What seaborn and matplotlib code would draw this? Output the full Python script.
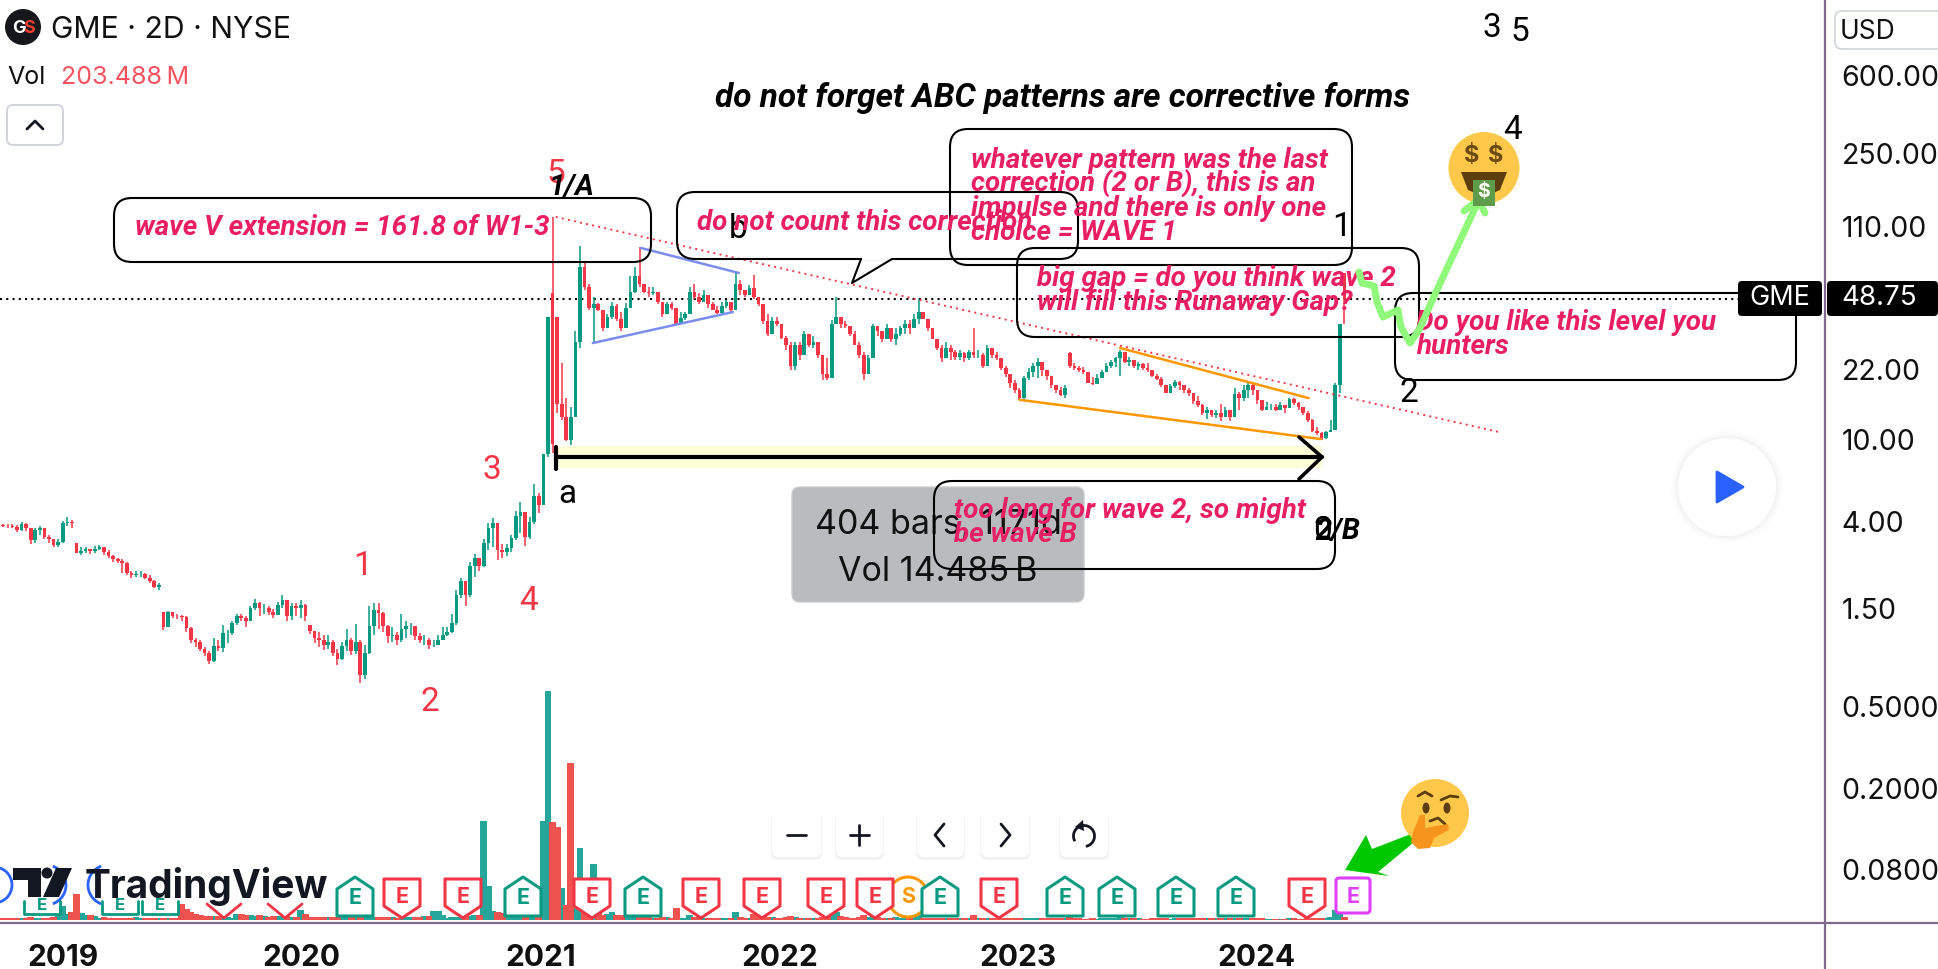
import numpy as np, pandas as pd
import matplotlib
matplotlib.use("Agg")
import matplotlib.pyplot as plt
import matplotlib.dates as mdates
from matplotlib.patches import FancyBboxPatch, Polygon, Circle, Ellipse, Arc, Rectangle
import seaborn as sns

# ---------- data ----------
first_bar = "2018-09-26"
bar_days = 7
closes = [
 3.85,3.82,3.80,3.77,3.64,3.90,3.70,3.26,3.64,3.70,
 3.37,3.27,3.08,3.19,3.92,3.99,3.92,2.80,2.88,2.93,
 2.86,2.94,2.99,2.85,2.71,2.61,2.56,2.52,2.25,2.19,
 2.21,2.22,2.12,2.04,1.92,1.97,1.22,1.44,1.39,1.38,
 1.37,1.21,1.06,1.03,.95,.91,.83,.985,.96,1.14,
 1.14,1.28,1.38,1.35,1.30,1.51,1.60,1.51,1.51,1.45,
 1.40,1.56,1.66,1.38,1.54,1.51,1.56,1.38,1.17,1.08,
 1.06,1.0,1.03,.91,.85,.985,1.06,.93,1.03,.71,
 .91,1.23,1.48,1.43,1.23,1.10,1.12,1.06,1.19,1.23,
 1.23,1.10,1.06,1.06,1.0,1.0,1.06,1.12,1.16,1.28,
 1.76,2.04,1.76,2.42,2.64,2.42,3.13,3.70,3.92,2.91,
 2.85,2.97,3.31,4.25,4.44,3.37,3.99,5.33,4.81,8.50,
 40,9.6,15,13,10,13,30,70,56,44,
 46,43,35,40,45,39,35,44,53,63,
 58,53,52,53,47,41,46,44,37,39.5,
 41,53,50,47,51,46,43,41.5,45,47,
 43,58,54,51,55,50,46,38,33,38,
 37,31.5,29,23,29,26,33,29,30,26,
 21,20,37,40,37,36,33,29,26,21,
 25,36,34,31,35,31,33,35,37,35,
 39,42,39,35,31,28,25,28,27,25.5,
 26.5,25,27,26,26,23,28,26,25,22.5,
 21,19,17.5,16,20,21.5,23,24,22,20.5,
 18.5,17.5,16.5,18,23,22.5,22,21.5,19,18.7,
 20,21.5,23,24,25,27,24,24.5,23,23.5,
 22.5,22,20.5,19.8,18.5,17,18.3,19.2,18.5,17.5,
 17,15.5,14.8,13.5,14,13.3,13.5,13,14,13,
 16.8,16,17.5,18.5,17.5,15.7,14,14.5,14.5,14,
 14.8,14.3,15.8,15.2,14.5,13.6,12.5,11,10.8,10.2,
 10.9,11.2,18.5,37,48.75]
highs = [
 3.93,3.90,3.88,3.90,3.85,3.98,3.92,3.72,3.72,3.80,
 3.70,3.45,3.30,3.30,4.00,4.20,4.05,3.13,3.00,3.00,
 2.95,3.02,3.08,3.00,2.90,2.75,2.65,2.62,2.55,2.30,
 2.30,2.28,2.25,2.20,2.08,2.00,1.44,1.47,1.45,1.42,
 1.40,1.38,1.22,1.08,1.05,.98,.93,1.08,1.05,1.25,
 1.18,1.30,1.42,1.42,1.38,1.55,1.68,1.62,1.58,1.55,
 1.50,1.62,1.75,1.66,1.60,1.60,1.65,1.58,1.25,1.17,
 1.15,1.12,1.12,1.05,.95,1.03,1.20,1.08,1.27,1.05,
 1.0,1.55,1.60,1.60,1.45,1.25,1.22,1.15,1.42,1.30,
 1.28,1.24,1.14,1.12,1.08,1.05,1.12,1.22,1.22,1.42,
 1.85,2.12,2.05,2.55,2.78,2.60,3.30,3.95,4.15,3.95,
 3.10,3.10,3.45,4.50,5.00,4.45,4.20,6.10,5.50,8.50,
 40,123,40,23.7,16,14.5,34,88,75,58,
 50,46.5,43,41,47,46,42,46.5,63,70,
 87,58,56,56,53,47,47,47,42,42,
 42,56,58,52,54,50,47,45,47,48,
 47,65,60,54,57,64,50,46,41,40,
 40,37,32,30,30,30,34,33,32,30,
 26,25,38.5,50,40,38,36,34,30,27,
 26,37,36,34,37,35,35,36,38.5,38.5,
 41,49,42,39,35,31,29,30,29,27.5,
 27.5,27,27.5,35,27.5,26.5,29,28,27,25,
 23,20.5,19.6,18,20.5,22.5,23.7,25,23.5,22,
 20.5,18.5,18.2,18.6,27,23.7,23,22.8,20,20.3,
 21,22,23.7,24.5,25.5,27.5,27,25.5,24.5,24,
 23.7,23.7,22,21,20.3,18.5,18.7,19.6,19.3,18.6,
 18,17,16.3,15,14.5,14,14,15,14.5,14,
 18,17.2,18.5,19,18.7,17,15.5,15.3,15,15,
 15.4,14.8,16,16.1,15.4,14.5,13.8,12.6,11.5,10.9,
 11.1,12.5,19,37,65]
lows = [
 3.75,3.75,3.70,3.70,3.55,3.60,3.60,3.10,3.15,3.45,
 3.30,3.15,3.00,3.00,3.15,3.80,3.70,2.80,2.75,2.80,
 2.78,2.82,2.90,2.75,2.65,2.55,2.50,2.25,2.20,2.12,
 2.15,2.15,2.10,2.00,1.90,1.85,1.18,1.25,1.35,1.33,
 1.30,1.15,1.02,.98,.93,.88,.81,.82,.93,.92,
 1.02,1.12,1.25,1.30,1.22,1.30,1.48,1.38,1.42,1.40,
 1.35,1.40,1.52,1.30,1.32,1.38,1.35,1.30,1.13,1.02,
 .98,.94,.95,.88,.80,.84,.93,.89,.90,.65,
 .68,.90,1.12,1.20,1.15,1.02,1.03,1.0,1.03,1.08,
 1.12,1.05,1.02,1.0,.95,.98,1.0,1.05,1.10,1.14,
 1.25,1.70,1.55,1.72,2.15,2.30,2.40,2.90,3.00,2.60,
 2.65,2.70,2.85,3.25,3.50,3.05,3.30,3.90,4.40,4.80,
 8.3,8.6,13.5,12.5,9.9,9.4,13,28,54,43,
 29.6,42.5,34,35,39,38,34,38,48,52,
 56,52,50,51,46,40,44,43,37,38.5,
 38.5,46,49,46,47,44,43,41,41,44,
 42,44,51,50,51,49,45,37,32,33,
 36,31,27.5,22,22,24.5,28,28.5,28,25,
 19.6,19.6,24.5,38,35,35,32,29,25,19.6,
 22,29,32,30,31,30,29,32,33,33,
 36,37,39,34,31,27.4,24,25,24.5,24.5,
 24.5,24,24.5,25,25,22.5,25,25,24.5,22,
 20.3,18,17,15.6,15.6,19.6,20.3,20,20.5,19.6,
 18,16.9,16.3,16,22.5,22,21.5,21,19,18.5,
 19,20,21.5,22.5,22.8,20.5,23.7,23,22.5,22,
 22,21.5,20.3,19.6,18.2,16.9,16.9,18,17.5,17,
 16.3,15,14.5,13.3,12.7,13,12.8,12.4,13.2,12.4,
 13.5,14,15.5,16,16.5,15,13.8,14,14,13.9,
 14,13.5,14.5,14.8,14,13.2,12.3,10.9,10.6,10,
 10.1,10.9,11.2,17,37]
gap_bars = [17, 36, 68, 121, 122, 234, 294]
gap_opens = [3.13, 1.44, 1.25, 52, 40, 26.5, 65]
volumes = [
 120,100,130,100,140,110,120,180,150,130,
 130,120,200,400,900,400,500,1700,480,300,
 350,250,150,200,150,130,120,120,110,120,
 200,120,120,110,120,100,130,150,120,110,
 1050,700,500,400,300,250,250,250,250,200,
 200,150,400,400,350,300,250,300,280,200,
 250,230,250,250,200,200,650,400,200,180,
 180,200,200,220,200,200,200,180,200,200,
 180,250,200,180,200,200,200,150,150,200,
 180,200,180,250,250,600,600,300,150,200,
 220,200,300,250,300,350,6500,2200,600,500,
 450,300,200,250,250,200,300,300,1000,6500,
 15000,6400,6100,2100,1000,10300,1200,4700,1300,700,
 3700,600,300,400,500,350,300,200,250,300,
 600,300,200,150,150,200,180,150,800,150,
 150,300,200,150,150,150,120,120,120,130,
 150,500,200,150,150,400,500,300,200,180,
 150,150,180,250,200,150,150,120,150,150,
 200,300,700,500,250,200,150,150,200,300,
 200,350,200,150,150,150,180,150,150,150,
 200,300,150,130,150,150,130,120,120,100,
 100,100,120,330,120,120,150,120,100,100,
 120,100,100,120,120,100,120,100,100,100,
 100,100,100,100,250,150,100,80,80,120,
 80,100,100,120,120,200,150,100,100,100,
 80,80,100,100,120,100,80,100,100,100,
 100,120,120,120,100,100,100,100,100,100,
 150,120,100,100,100,100,100,80,80,80,
 80,80,100,100,80,80,100,150,120,100,
 100,200,650,400,203.488]
vol_force_red = [125]
vol_force_green = [123]
price_ticks = [600, 250, 110, 48.75, 22, 10, 4, 1.5, 0.5, 0.2, 0.08]
price_labels = ["600.00","250.00","110.00","","22.00","10.00","4.00","1.50","0.5000","0.2000","0.0800"]
years = [2019, 2020, 2021, 2022, 2023, 2024]
last_price = 48.75
tri_top_bars, tri_top_prices = [140.3, 161.7], [86.5, 65.3]
tri_low_bars, tri_low_prices = [129.8, 160.4], [29.7, 42.1]
fall_bars, fall_prices = [121.7, 328], [122.5, 10.9]
wedge_top_bars, wedge_top_prices = [245, 286.2], [28.1, 16.0]
wedge_low_bars, wedge_low_prices = [223, 288.8], [15.7, 10.1]

# ---------- setup ----------
sns.set_theme(style="white")
plt.rcParams["font.family"] = ["Inter", "Roboto", "DejaVu Sans"]
W, H = 1938, 969
fig = plt.figure(figsize=(W/100, H/100), dpi=100, facecolor="white")
def rect_px(x0, y0, x1, y1):
    return [x0/W, 1-y1/H, (x1-x0)/W, (y1-y0)/H]

GREEN, RED = "#089981", "#F23645"
VGREEN, VRED = "#26A69A", "#EF5350"
PINK = "#E91E63"
PURPLE = "#7E6A8C"

c = np.array(closes, float); h = np.array(highs, float); l = np.array(lows, float)
n = len(c)
assert len(h) == n and len(l) == n and len(volumes) == n, (n, len(h), len(l), len(volumes))
o = np.r_[c[0], c[:-1]]
o[gap_bars] = gap_opens
t0 = mdates.date2num(np.datetime64(first_bar))
t = t0 + np.arange(n)*bar_days
def bar_x(b):
    return t0 + np.asarray(b, float)*bar_days
xlim = (t0 + 2, mdates.date2num(np.datetime64("2026-05-20")))
up = c >= o

# ---------- volume pane ----------
vax = fig.add_axes(rect_px(0, 500, 1825, 920))
vdir = np.where(up, "up", "down").astype(object)
vdir[vol_force_red] = "down"; vdir[vol_force_green] = "up"
vdf = pd.DataFrame({"t": t, "vol": volumes, "dir": vdir})
sns.barplot(data=vdf, x="t", y="vol", hue="dir", palette={"up": VGREEN, "down": VRED},
            native_scale=True, dodge=False, width=1.5, legend=False, ax=vax, linewidth=0, saturation=1)
vax.set_xlim(xlim); vax.set_ylim(0, 27552); vax.axis("off")

# ---------- price pane ----------
ax = fig.add_axes(rect_px(0, 0, 1825, 923), sharex=None)
ax.patch.set_alpha(0)
ax.set_yscale("log")
ax.bar(t, np.abs(c-o), bottom=np.minimum(c, o), width=bar_days*0.8,
       color=np.where(up, GREEN, RED), linewidth=0, zorder=3)
ax.vlines(t, l, h, colors=np.where(up, GREEN, RED), linewidth=1.1, zorder=3)
ax.set_xlim(xlim); ax.set_ylim(0.0439, 1403)
ax.axhline(last_price, xmin=0, xmax=1738/1825, color="black", linestyle=(0, (1, 2)), linewidth=1.5, zorder=2)
for b, p, col, ls, lw in [(tri_top_bars, tri_top_prices, "#7B8EEE", "-", 1.8),
                          (tri_low_bars, tri_low_prices, "#7B8EEE", "-", 1.8),
                          (wedge_top_bars, wedge_top_prices, "#FF9800", "-", 1.8),
                          (wedge_low_bars, wedge_low_prices, "#FF9800", "-", 1.8),
                          (fall_bars, fall_prices, "#F23645", (0, (1, 2.2)), 1.4)]:
    sns.lineplot(x=bar_x(b), y=p, color=col, linestyle=ls, linewidth=lw, ax=ax, zorder=4, legend=False)
ax.set_xlim(xlim); ax.set_ylim(0.0439, 1403)
ax.set_xlabel(""); ax.set_ylabel("")
for s in ax.spines.values():
    s.set_visible(False)
ax.yaxis.tick_right()
ax.set_yticks(price_ticks); ax.set_yticklabels(price_labels)
ax.minorticks_off()
ax.tick_params(axis="y", length=0, pad=12, labelsize=20.5, labelcolor="#111111")
ax.set_xticks([mdates.date2num(np.datetime64(f"{y}-01-02")) for y in years])
ax.set_xticklabels([str(y) for y in years], fontweight="bold")
ax.tick_params(axis="x", length=0, pad=15, labelsize=21.5, labelcolor="#111111")

# ---------- overlay in screen pixels ----------
ov = fig.add_axes([0, 0, 1, 1], zorder=10)
ov.set_xlim(0, W); ov.set_ylim(H, 0); ov.axis("off"); ov.patch.set_alpha(0)

ov.plot([0, W], [923, 923], color=PURPLE, lw=1.6, zorder=1)
ov.plot([1825, 1825], [0, H], color=PURPLE, lw=1.6, zorder=1)

def box(x0, y0, x1, y1, r=18, fc="none", ec="black", lw=1.5, z=5, alpha=None):
    p = FancyBboxPatch((x0+r, y0+r), x1-x0-2*r, y1-y0-2*r, boxstyle=f"round,pad={r},rounding_size={r}",
                       fc=fc, ec=ec, lw=lw, zorder=z, alpha=alpha)
    ov.add_patch(p); return p
def txt(x, y, s, size=20, color="black", ha="left", va="center", z=8, **kw):
    return ov.text(x, y, s, fontsize=size, color=color, ha=ha, va=va, zorder=z, **kw)
def pink(x, y, s):
    txt(x, y, s, size=20, color=PINK, family="Roboto", fontweight="bold", fontstyle="italic", z=9)

# yellow band and date-range arrow
ov.add_patch(Rectangle((556, 446), 766, 22, fc="#FFFDD8", ec="none", zorder=2))
ov.plot([556, 1322], [457, 457], color="black", lw=3, zorder=6)
ov.plot([556, 556], [447, 469], color="black", lw=3, zorder=6, solid_capstyle="round")
ov.plot([1299, 1322, 1299], [437, 457, 479], color="black", lw=2.6, zorder=6)

# grey measuring label
box(792, 487, 1084, 602, r=8, fc="#BABBBF", ec="#C9CACD", lw=1, z=3)
txt(938, 525, "404 bars, 1171d", size=24.5, ha="center", color="#111111", z=4)
txt(938, 572, "Vol 14.485\u2009B", size=24.5, ha="center", color="#111111", z=4)

# annotation boxes
box(114, 198, 651, 262)
box(950, 129, 1352, 265)
box(1017, 248, 1419, 337)
box(1395, 293, 1796, 380)
box(934, 481, 1335, 569)
# speech bubble
r = 18
x0, y0, x1, y1 = 677, 192, 1078, 259
box(x0, y0, x1, y1)
ov.add_patch(Rectangle((862, y1-1.6), 30, 3, fc="white", ec="none", zorder=6))
ov.plot([861, 852, 892], [y1, 283, y1], color="black", lw=1.5, zorder=7)

pink(135, 227, "wave V extension = 161.8 of W1-3")
pink(697, 222, "do not count this correction")
for yy, s in zip([160, 184, 208, 232], ["whatever pattern was the last", "correction (2 or B), this is an",
                                        "impulse and there is only one", "choice = WAVE 1"]):
    pink(971, yy, s)
pink(1037, 279, "big gap = do you think wave 2")
pink(1037, 303, "will fill this Runaway Gap?")
pink(1416, 322, "Do you like this level you")
pink(1416, 347, "hunters")
pink(954, 510, "too long for wave 2, so might")
pink(954, 534, "be wave B")

txt(1063, 98, "do not forget ABC patterns are corrective forms", size=24, ha="center",
    family="Roboto", fontweight="bold", fontstyle="italic", color="black")

WRED = "#F23645"
for x, y, s in [(556, 174, "5"), (363, 566, "1"), (492, 470, "3"), (529, 601, "4"), (430, 702, "2")]:
    txt(x, y, s, size=24, color=WRED, ha="center", family="Roboto")
for x, y, s in [(738, 229, "b"), (567, 494, "a"), (1342, 227, "1"), (1409, 393, "2"), (1513, 130, "4"),
                (1492, 28, "3"), (1520, 32, "5"), (1323, 531, "2"), (1323, 531, "0")]:
    txt(x, y, s, size=24, ha="center", family="Roboto")
txt(572, 187, "1/A", size=21, ha="center", family="Roboto", fontweight="bold", fontstyle="italic")
txt(1338, 531, "2/B", size=21, ha="center", family="Roboto", fontweight="bold", fontstyle="italic")

# green hand-drawn path to the emoji
gx = [1359, 1362, 1374, 1377, 1383, 1398, 1401, 1410, 1419, 1436, 1478]
gy = [272, 283, 286, 302, 317, 310, 327, 343, 330, 292, 202]
ov.plot(gx, gy, color="#90F97B", lw=5, zorder=11, solid_capstyle="round", solid_joinstyle="round")
ov.plot([1464, 1478, 1485], [211, 200, 213], color="#90F97B", lw=5, zorder=11, solid_capstyle="round")

# money-mouth face
ov.add_patch(Ellipse((1484, 168), 71, 72, fc="#FFC84A", ec="none", zorder=10))
txt(1472, 156, "$", size=17, color="#6B4A10", ha="center", fontweight="bold", z=12)
txt(1496, 156, "$", size=17, color="#6B4A10", ha="center", fontweight="bold", z=12)
ov.add_patch(Polygon([[1461, 172], [1507, 172], [1500, 190], [1484, 197], [1468, 190]], fc="#5C3D0C", ec="none", zorder=11))
ov.add_patch(Rectangle((1473, 180), 22, 26, fc="#5E9B4A", ec="none", zorder=12))
txt(1484, 192, "$", size=14, color="white", ha="center", fontweight="bold", z=13)

# thinking face and green arrow
ov.add_patch(Ellipse((1435, 813), 68, 68, fc="#FFC84A", ec="none", zorder=10))
ov.add_patch(Ellipse((1426, 808), 7, 11, fc="#5C3D0C", ec="none", zorder=11))
ov.add_patch(Ellipse((1447, 808), 7, 11, fc="#5C3D0C", ec="none", zorder=11))
ov.plot([1418, 1425, 1432], [796, 792, 796], color="#5C3D0C", lw=2, zorder=11)
ov.plot([1441, 1450, 1458], [800, 796, 797], color="#5C3D0C", lw=2, zorder=11)
ov.plot([1430, 1438, 1445], [821, 818, 824], color="#5C3D0C", lw=2, zorder=11)
ov.add_patch(Polygon([[1413, 832], [1420, 815], [1425, 815], [1425, 828], [1448, 824], [1449, 830], [1434, 838],
                      [1430, 848], [1418, 849], [1411, 842]], fc="#F7941D", ec="none", zorder=12))
ov.add_patch(Polygon([[1345, 870], [1366, 835], [1372, 849], [1411, 834], [1413, 843], [1378, 872], [1389, 876]],
                     fc="#00C800", ec="none", zorder=9))

# earnings markers
def e_up(x, col=GREEN, s="E"):
    ov.add_patch(Polygon([[x-18, 889], [x, 877], [x+18, 889], [x+18, 916], [x-18, 916]], closed=True, fc="white", ec=col,
                         lw=2.2, joinstyle="round", zorder=7))
    txt(x, 898, s, size=15.5, color=col, ha="center", fontweight="bold", z=8)
def e_dn(x, col=RED, s="E"):
    ov.add_patch(Polygon([[x-18, 879], [x+18, 879], [x+18, 906], [x, 918], [x-18, 906]], closed=True, fc="white", ec=col,
                         lw=2.2, joinstyle="round", zorder=7))
    txt(x, 897, s, size=15.5, color=col, ha="center", fontweight="bold", z=8)
ov.add_patch(Circle((908, 897), 20, fc="white", ec="#FF9800", lw=2.2, zorder=6))
txt(908, 897, "S", size=15.5, color="#FF9800", ha="center", fontweight="bold", z=8)
for x in [355, 523, 643, 940, 1065, 1117, 1176, 1236]:
    e_up(x)
for x in [402, 463, 592, 701, 762, 826, 875, 999, 1307]:
    e_dn(x)
ov.add_patch(FancyBboxPatch((1338, 880), 30, 31, boxstyle="round,pad=2,rounding_size=3", fc="white", ec="#E040FB", lw=2.2, zorder=7))
txt(1353, 897, "E", size=15.5, color="#E040FB", ha="center", fontweight="bold", z=8)
# markers partly under the logo
for cx, r, a0, a1 in [(-6, 18, -90, 90), (46, 20, -70, 70), (108, 20, 110, 250)]:
    ov.add_patch(Arc((cx, 885), 2*r, 2*r, theta1=a0, theta2=a1, color="#2962FF", lw=2, zorder=6))
for x in [42, 120, 160]:
    ov.plot([x-18, x-18, x+18, x+18], [901, 914, 914, 901], color=GREEN, lw=2, zorder=7)
    txt(x, 905, "E", size=12, color=GREEN, ha="center", fontweight="bold", z=6.5)
for x in [224, 285]:
    ov.plot([x-17, x, x+17], [904, 918, 904], color=RED, lw=2, zorder=7)

# TradingView logo
LOGO = "#131722"
ov.add_patch(Polygon([[13, 868], [41, 868], [41, 897], [28, 897], [28, 880], [13, 880]], fc=LOGO, ec="none", zorder=8))
ov.add_patch(Circle((47, 873), 5.5, fc=LOGO, ec="none", zorder=8))
ov.add_patch(Polygon([[56, 868], [72, 868], [59, 897], [43, 897]], fc=LOGO, ec="none", zorder=8))
txt(85, 886, "TradingView", size=28, color=LOGO, fontweight="bold", z=8)

# zoom / scroll buttons
for x0, x1 in [(772, 821), (836, 883), (917, 964), (981, 1029), (1060, 1108)]:
    box(x0-1, 813, x1+1, 860, r=7, fc="#000000", ec="none", lw=0, z=4, alpha=0.05)
    box(x0, 811, x1, 857, r=7, fc="white", ec="none", lw=0, z=5)
ICON = "#131722"
ov.plot([787, 806], [835, 835], color=ICON, lw=2, zorder=8)
ov.plot([850, 869], [835, 835], color=ICON, lw=2, zorder=8)
ov.plot([859.5, 859.5], [825, 845], color=ICON, lw=2, zorder=8)
ov.plot([944, 935, 944], [824, 835, 846], color=ICON, lw=2, zorder=8)
ov.plot([1001, 1010, 1001], [824, 835, 846], color=ICON, lw=2, zorder=8)
ov.add_patch(Arc((1084, 836), 21, 21, theta1=-210, theta2=80, color=ICON, lw=2, zorder=8))
ov.add_patch(Polygon([[1083, 820], [1075, 827], [1084, 831]], fc=ICON, ec="none", zorder=8))

# play button
for rr, a in [(56, 0.012), (53, 0.015), (51, 0.02)]:
    ov.add_patch(Circle((1727, 487), rr, fc="black", ec="none", alpha=a, zorder=3))
ov.add_patch(Circle((1727, 487), 49, fc="white", ec="none", zorder=3))
ov.add_patch(Polygon([[1717, 472], [1743, 487], [1717, 502]], fc="#2962FF", ec="#2962FF", lw=2, joinstyle="round", zorder=4))

# last-price tags and currency
box(1738, 281, 1822, 316, r=4, fc="black", ec="none", lw=0, z=7)
box(1827, 281, 1938, 316, r=4, fc="black", ec="none", lw=0, z=7)
txt(1780, 298, "GME", size=19.5, color="white", ha="center", z=8)
txt(1841, 298, "48.75", size=20, color="white", z=8)
box(1835, 11, 1946, 49, r=7, fc="white", ec="#D1D4DC", lw=1.2, z=5)
txt(1840, 32, "USD", size=19, color="#111111")

# header
ov.add_patch(Circle((23, 27), 18, fc="#15171C", ec="none", zorder=6))
txt(19, 28, "G", size=13, color="white", ha="center", fontweight="bold")
txt(29, 28, "S", size=13, color="#F23D30", ha="center", fontweight="bold")
txt(51, 30, "GME \u00b7 2D \u00b7 NYSE", size=21.7, color="#111111")
txt(7, 77, "Vol", size=18, color="#111111")
txt(61, 77, "203.488\u2009M", size=18, color="#F7525F")
box(7, 105, 63, 145, r=6, fc="white", ec="#D1D4DC", lw=1.4, z=5)
ov.plot([27, 35, 43], [129, 121, 129], color="#131722", lw=2, zorder=8)

fig.savefig("out.png", dpi=100)
